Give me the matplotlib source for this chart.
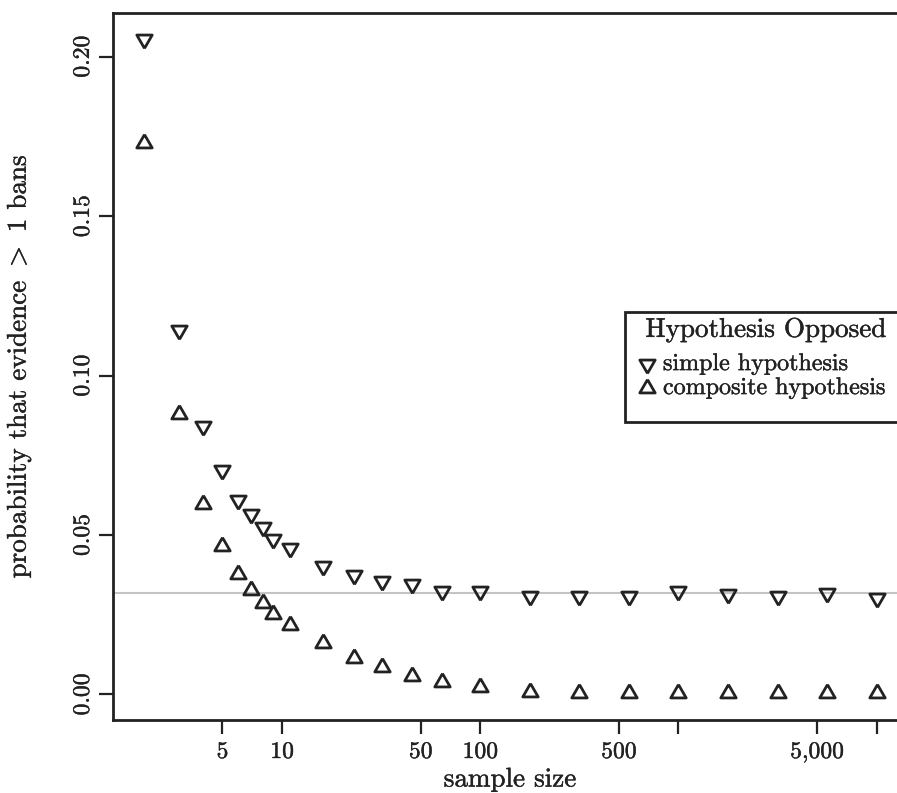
import numpy as np
import matplotlib
matplotlib.use("Agg")
import matplotlib.pyplot as plt
import matplotlib.patheffects as pe
from matplotlib.patches import Rectangle
from matplotlib.ticker import FixedLocator, FixedFormatter, NullLocator

# ── data ──────────────────────────────────────────
sample_size = [2, 3, 4, 5, 6, 7, 8, 9, 11, 16, 23, 32, 45, 64,
               100, 178, 316, 562, 1000, 1778, 3162, 5623, 10000]
p_simple = [0.2055, 0.1144, 0.0843, 0.0705, 0.0611, 0.0567, 0.0524, 0.0489,
            0.0458, 0.0402, 0.0376, 0.0356, 0.0345, 0.0324, 0.0326, 0.0308,
            0.0308, 0.0308, 0.0324, 0.0316, 0.0308, 0.0317, 0.0303]
p_composite = [0.1730, 0.0881, 0.0596, 0.0465, 0.0379, 0.0329, 0.0288, 0.0251,
               0.0219, 0.0160, 0.0113, 0.0085, 0.0057, 0.0039, 0.0024, 0.0007,
               0.0005, 0.0005, 0.0005, 0.0005, 0.0005, 0.0005, 0.0005]
ref_level = 0.0319
xticks = [5, 10, 50, 100, 500, 1000, 5000, 10000]
xtick_labels = ["5", "10", "50", "100", "500", "", "5,000", ""]
yticks = [0.00, 0.05, 0.10, 0.15, 0.20]
ytick_labels = ["0.00", "0.05", "0.10", "0.15", "0.20"]

plt.rcParams["font.family"] = "serif"
plt.rcParams["font.serif"] = ["cmr10"]
plt.rcParams["mathtext.fontset"] = "cm"
plt.rcParams["axes.unicode_minus"] = False
plt.rcParams["axes.formatter.use_mathtext"] = True

INK = "#222222"
# a touch heavier text, like the reference rendering
heavy = [pe.withStroke(linewidth=0.3, foreground=INK)]

# R-style triangles (centred on centroid)
tri_up = [(0, 1.555), (1.347, -0.778), (-1.347, -0.778), (0, 1.555)]
tri_down = [(x, -y) for x, y in tri_up]

W, H = 897, 793
fig = plt.figure(figsize=(W / 100, H / 100), dpi=100)
# axes box in pixels: left 113, right ~906 (cut off), top 13, bottom 720
ax = fig.add_axes([113.3 / W, (H - 720) / H, 793.2 / W, 707.3 / H])

ax.axhline(ref_level, color="#c4c4c4", lw=1.5, zorder=1)

mk = dict(ls="none", ms=12.8, mfc="none", mec=INK, mew=2.0, zorder=3)
ax.plot(sample_size, p_simple, marker=tri_down, **mk)
ax.plot(sample_size, p_composite, marker=tri_up, **mk)

ax.set_xscale("log")
ax.set_xlim(1.406, 14150)
ax.set_ylim(-0.0080, 0.2138)

ax.xaxis.set_major_locator(FixedLocator(xticks))
ax.xaxis.set_major_formatter(FixedFormatter(xtick_labels))
ax.xaxis.set_minor_locator(NullLocator())
ax.yaxis.set_major_locator(FixedLocator(yticks))
ax.yaxis.set_major_formatter(FixedFormatter(ytick_labels))

for s in ax.spines.values():
    s.set_linewidth(2.0)
    s.set_color(INK)
ax.tick_params(axis="both", direction="out", length=10, width=1.6,
               color=INK, labelsize=17, labelcolor=INK)
ax.tick_params(axis="x", pad=5)
ax.tick_params(axis="y", pad=4)
for lab in ax.get_yticklabels():
    lab.set_rotation(90)
    lab.set_va("center")
for lab in ax.get_xticklabels() + ax.get_yticklabels():
    lab.set_path_effects(heavy)

ax.set_xlabel("sample size", fontsize=19.5, color=INK, labelpad=3.5,
              path_effects=heavy)
ax.set_ylabel("probability that evidence $>$ 1 bans", fontsize=19.5,
              color=INK, labelpad=28, path_effects=heavy)

# ── legend (drawn by hand, R style) ─────────────
ax.add_patch(Rectangle((0.6451, 0.4217), 0.3549, 0.1556, transform=ax.transAxes,
                       fill=True, fc="white", ec=INK, lw=2.0, zorder=5,
                       clip_on=False))
ax.text(0.8226, 0.5514, "Hypothesis Opposed", transform=ax.transAxes,
        ha="center", va="center", fontsize=19.5, color=INK, zorder=6,
        path_effects=heavy)
ax.plot([0.6725], [0.5033], transform=ax.transAxes, marker=tri_down,
        clip_on=False, **{**mk, "zorder": 6})
ax.plot([0.6725], [0.4694], transform=ax.transAxes, marker=tri_up,
        clip_on=False, **{**mk, "zorder": 6})
ax.text(0.693, 0.5033, "simple hypothesis", transform=ax.transAxes,
        ha="left", va="center", fontsize=17.3, color=INK, zorder=6,
        path_effects=heavy)
ax.text(0.693, 0.4694, "composite hypothesis", transform=ax.transAxes,
        ha="left", va="center", fontsize=17.3, color=INK, zorder=6,
        path_effects=heavy)

fig.savefig("out.png", dpi=100)
